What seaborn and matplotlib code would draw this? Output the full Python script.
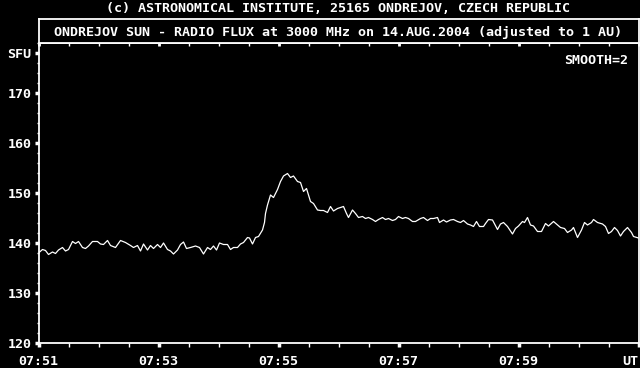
import matplotlib
matplotlib.use("Agg")
import matplotlib.pyplot as plt
from matplotlib.ticker import FixedLocator, MultipleLocator
import seaborn as sns
import pandas as pd

# seconds after 07:51:00 UT
seconds = [0, 4, 7, 10, 14, 17, 20, 24, 27, 30, 34, 37, 40, 44, 47, 50, 54, 59, 62, 65,
           69, 72, 77, 82, 87, 92, 95, 99, 102, 105, 109, 112, 115, 119, 122, 125, 129, 132, 135, 139,
           142, 145, 148, 152, 157, 161, 165, 169, 172, 175, 178, 181, 185, 189, 192, 195, 199, 202, 205, 209,
           211, 214, 217, 220, 224, 226, 227, 229, 232, 235, 239, 242, 245, 249, 252, 255, 259, 262, 265, 268,
           272, 275, 279, 282, 285, 289, 292, 295, 299, 302, 305, 308, 310, 314, 317, 320, 324, 327, 330, 334,
           337, 340, 344, 347, 350, 354, 357, 360, 364, 367, 370, 374, 377, 382, 385, 389, 392, 395, 399, 401,
           405, 408, 412, 415, 419, 422, 425, 429, 432, 435, 438, 441, 445, 447, 450, 454, 459, 462, 465, 469,
           474, 477, 480, 484, 486, 489, 492, 495, 499, 503, 507, 510, 515, 519, 522, 526, 529, 533, 535, 539,
           543, 546, 549, 553, 555, 559, 564, 567, 570, 573, 576, 579, 582, 585, 589, 593, 595, 600]
flux = [138.0, 138.7, 138.5, 137.7, 138.2, 137.9, 138.6, 139.1, 138.4, 138.7, 140.3, 139.9, 140.3, 139.1, 138.9, 139.4, 140.3, 140.3, 139.8, 139.7,
        140.5, 139.5, 139.1, 140.5, 140.1, 139.5, 139.1, 139.5, 138.4, 139.8, 138.6, 139.5, 138.9, 139.7, 139.1, 140.0, 138.7, 138.4, 137.8, 138.6,
        139.7, 140.2, 138.9, 139.1, 139.4, 139.1, 137.8, 139.1, 138.7, 139.4, 138.6, 140.0, 139.7, 139.7, 138.7, 139.1, 139.1, 139.8, 140.1, 141.1,
        141.0, 139.8, 141.1, 141.3, 142.6, 144.1, 145.9, 147.6, 149.6, 149.1, 150.7, 152.3, 153.4, 153.9, 153.1, 153.4, 152.3, 152.1, 150.3, 150.9,
        148.3, 147.9, 146.6, 146.5, 146.5, 146.1, 147.3, 146.4, 146.9, 147.1, 147.3, 145.9, 145.1, 146.6, 145.9, 145.1, 145.3, 144.9, 145.1, 144.7,
        144.3, 144.7, 145.1, 144.7, 144.9, 144.5, 144.7, 145.3, 144.9, 145.1, 144.9, 144.3, 144.3, 144.9, 145.1, 144.5, 144.9, 144.9, 145.1, 144.1,
        144.6, 144.2, 144.6, 144.7, 144.3, 144.1, 144.5, 143.8, 143.6, 143.3, 144.3, 143.3, 143.3, 143.9, 144.7, 144.6, 142.7, 143.8, 144.1, 143.3,
        141.8, 142.9, 143.4, 144.3, 144.1, 145.1, 143.6, 143.4, 142.3, 142.3, 143.9, 143.4, 144.3, 143.6, 143.1, 142.9, 142.1, 142.6, 143.1, 141.1,
        142.6, 144.1, 143.6, 144.1, 144.7, 144.1, 143.8, 143.3, 141.9, 142.3, 143.1, 142.5, 141.4, 142.3, 143.1, 142.1, 141.3, 141.0]

x_tick_seconds = [0, 120, 240, 360, 480, 600]
x_tick_labels = ["07:51", "07:53", "07:55", "07:57", "07:59", "UT"]
y_tick_values = [120, 130, 140, 150, 160, 170, 178]
y_tick_labels = ["120", "130", "140", "150", "160", "170", "SFU"]
header = "(c) ASTRONOMICAL INSTITUTE, 25165 ONDREJOV, CZECH REPUBLIC"
title = "ONDREJOV SUN - RADIO FLUX at 3000 MHz on 14.AUG.2004 (adjusted to 1 AU)"
note = "SMOOTH=2"

sns.set_style("dark", rc={"axes.facecolor": "black", "figure.facecolor": "black",
                          "axes.edgecolor": "white", "text.color": "white",
                          "xtick.color": "white", "ytick.color": "white",
                          "axes.grid": False})
plt.rcParams['font.family'] = ['DejaVu Sans Mono']
plt.rcParams['font.weight'] = 'bold'
FS = 9.6

W, H = 640, 368
fig = plt.figure(figsize=(6.4, 3.68), dpi=100, facecolor="black")
ax = fig.add_axes([38.5 / W, 25 / H, 600 / W, 300 / H])

df = pd.DataFrame({"sec": seconds, "flux": flux})
sns.lineplot(data=df, x="sec", y="flux", ax=ax, color="white", linewidth=0.9)

ax.set_xlim(0, 600)
ax.set_ylim(120, 180)
ax.set_xlabel("")
ax.set_ylabel("")
for s in ax.spines.values():
    s.set_color("white")
    s.set_linewidth(1.3)
    s.set_visible(True)

ax.xaxis.set_major_locator(FixedLocator(x_tick_seconds))
ax.set_xticklabels(x_tick_labels, fontsize=FS, fontweight="bold")
ax.xaxis.set_minor_locator(MultipleLocator(30))
ax.yaxis.set_major_locator(FixedLocator(y_tick_values))
ax.set_yticklabels(y_tick_labels, fontsize=FS, fontweight="bold")
ax.yaxis.set_minor_locator(MultipleLocator(2))

ax.tick_params(axis="x", which="major", direction="out", length=3, width=2.5,
               colors="white", pad=5.5, bottom=True, top=False)
ax.tick_params(axis="x", which="minor", direction="out", length=3, width=1,
               colors="white", bottom=True, top=False)
ax.tick_params(axis="y", which="major", direction="out", length=3, width=2.5,
               colors="white", pad=2, left=True, right=False)
ax.tick_params(axis="y", which="minor", direction="out", length=1.5, width=1,
               colors="white", left=True, right=False)
ax.get_xticklabels()[-1].set_horizontalalignment("right")

ax.text(0.983, 0.943, note, transform=ax.transAxes, ha="right", va="center",
        fontsize=FS, fontweight="bold", color="white")

# title box
tb = fig.add_axes([38.5 / W, 325 / H, 600 / W, 24 / H])
tb.set_facecolor("black")
tb.set_xlim(0, 600)
tb.set_ylim(0, 1)
for s in tb.spines.values():
    s.set_color("white")
    s.set_linewidth(1.3)
    s.set_visible(True)
tb.xaxis.set_major_locator(FixedLocator(x_tick_seconds))
tb.xaxis.set_minor_locator(MultipleLocator(30))
tb.set_yticks([])
tb.tick_params(axis="x", which="major", direction="out", length=2.5, width=2.0,
               colors="white", labelbottom=False, bottom=True, top=False)
tb.tick_params(axis="x", which="minor", direction="out", length=2.5, width=1,
               colors="white", bottom=True, top=False)
tb.text(0.5, 0.45, title, transform=tb.transAxes, ha="center", va="center",
        fontsize=FS, fontweight="bold", color="white")

fig.text(338 / W, 1 - 8.5 / H, header, ha="center", va="center",
         fontsize=FS, fontweight="bold", color="white")

fig.savefig("out.png", dpi=100, facecolor="black")
